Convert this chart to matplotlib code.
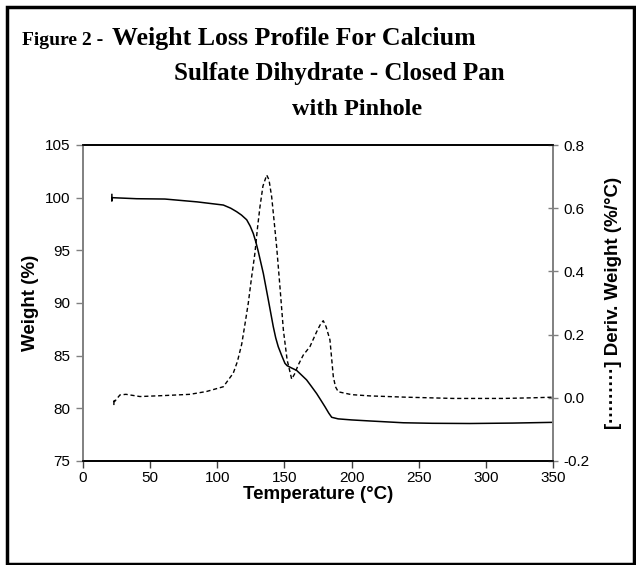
import matplotlib.pyplot as plt
from matplotlib.patches import Rectangle

# weight curve (left axis)
temp_w = [21.5, 21.5, 21.5, 40, 61, 85, 104.5, 110, 114.4, 118, 121.9, 124.5,
          126.8, 128.7, 130.5, 134.3, 138, 141.7, 143.5, 145.4, 148, 150.4,
          152, 155, 159.1, 162, 166.5, 170, 174, 177, 180.2, 183, 185.2, 190,
          200, 213.7, 238.5, 260, 288, 320, 350]
weight = [100.3, 99.7, 100.0, 99.9, 99.87, 99.6, 99.3, 99.0, 98.67, 98.35, 97.9,
          97.3, 96.6, 95.8, 94.9, 92.8, 90.3, 87.75, 86.7, 85.85, 85.0, 84.27,
          84.05, 83.85, 83.6, 83.25, 82.7, 82.1, 81.4, 80.8, 80.15, 79.55, 79.15,
          79.0, 78.9, 78.8, 78.63, 78.58, 78.56, 78.6, 78.67]

# derivative curve (right axis)
temp_d = [23, 23, 23.5, 27.5, 32, 42.4, 60, 79.7, 92, 104.5, 111.9, 115, 118.2,
          120.5, 123.1, 125.5, 128, 130, 131.8, 134, 136.8, 138.5, 140.5, 142.3,
          144.2, 146.5, 149.2, 152, 155.4, 157.5, 160.3, 164, 169, 174, 176.5,
          178.9, 181, 183.9, 186.4, 188, 190.1, 200, 213.7, 240, 275.7, 313,
          335, 350]
deriv = [-0.023, -0.004, -0.012, 0.009, 0.011, 0.004, 0.007, 0.011, 0.02, 0.035,
         0.078, 0.115, 0.17, 0.23, 0.30, 0.38, 0.457, 0.54, 0.605, 0.67, 0.705,
         0.69, 0.636, 0.56, 0.478, 0.36, 0.215, 0.12, 0.059, 0.075, 0.104, 0.135,
         0.162, 0.209, 0.23, 0.244, 0.225, 0.183, 0.067, 0.035, 0.019, 0.01,
         0.006, 0.002, -0.002, -0.002, 0.0, 0.002]

x_ticks = [0, 50, 100, 150, 200, 250, 300, 350]
w_ticks = [75, 80, 85, 90, 95, 100, 105]
d_ticks = [-0.2, 0.0, 0.2, 0.4, 0.6, 0.8]

W, H = 636, 565
fig = plt.figure(figsize=(W / 100, H / 100), dpi=100)
ax = fig.add_axes([83 / W, 1 - 461 / H, 470 / W, 316 / H])
ax2 = ax.twinx()

ax.plot(temp_w, weight, color="black", lw=1.1)
ax2.plot(temp_d, deriv, color="black", lw=1.0, linestyle=(0, (3, 2)))

ax.set_xlim(0, 350)
ax.set_ylim(75, 105)
ax2.set_ylim(-0.2, 0.8)
ax.set_xticks(x_ticks)
ax.set_yticks(w_ticks)
ax2.set_yticks(d_ticks)
ax2.set_yticklabels([f"{v:.1f}" for v in d_ticks])

gray = "#808080"
for a in (ax, ax2):
    a.spines["top"].set_color("black")
    a.spines["bottom"].set_color("black")
    a.spines["left"].set_color(gray)
    a.spines["right"].set_color(gray)
    for s in a.spines.values():
        s.set_linewidth(1.2)

ax.tick_params(axis="x", direction="out", length=5, width=1, color="#404040",
               pad=2, labelsize=11)
ax.tick_params(axis="y", direction="out", length=5, width=1, color=gray,
               pad=4, labelsize=11)
ax2.tick_params(axis="y", direction="inout", length=7, width=1, color=gray,
                pad=4, labelsize=11)

lab_font = dict(fontsize=13.5, fontweight="bold", family="Liberation Sans")
for a in (ax, ax2):
    for t in a.get_xticklabels() + a.get_yticklabels():
        t.set_family("Liberation Sans")
ax.set_xlabel("Temperature (°C)", labelpad=1, **lab_font)
ax.set_ylabel("Weight (%)", labelpad=4, **lab_font)
ax2.set_ylabel("[" + "·" * 9 + "] Deriv. Weight (%/°C)", rotation=90,
               labelpad=11, **lab_font)

# title lines
serif = "Liberation Serif"
fig.text(22 / W, 1 - 45 / H, "Figure 2 -", fontsize=14, fontweight="bold",
         family=serif, ha="left", va="baseline")
fig.text(112 / W, 1 - 45 / H, "Weight Loss Profile For Calcium", fontsize=18.6,
         fontweight="bold", family=serif, ha="left", va="baseline")
fig.text(339 / W, 1 - 80 / H, "Sulfate Dihydrate - Closed Pan", fontsize=18,
         fontweight="bold", family=serif, ha="center", va="baseline")
fig.text(357 / W, 1 - 115 / H, "with Pinhole", fontsize=17.5,
         fontweight="bold", family=serif, ha="center", va="baseline")

# outer frame
fig.patches.append(Rectangle((7 / W, 1 / H), 627 / W, 557 / H,
                             transform=fig.transFigure, fill=False,
                             edgecolor="black", lw=2.5))

fig.savefig("out.png", dpi=100)
